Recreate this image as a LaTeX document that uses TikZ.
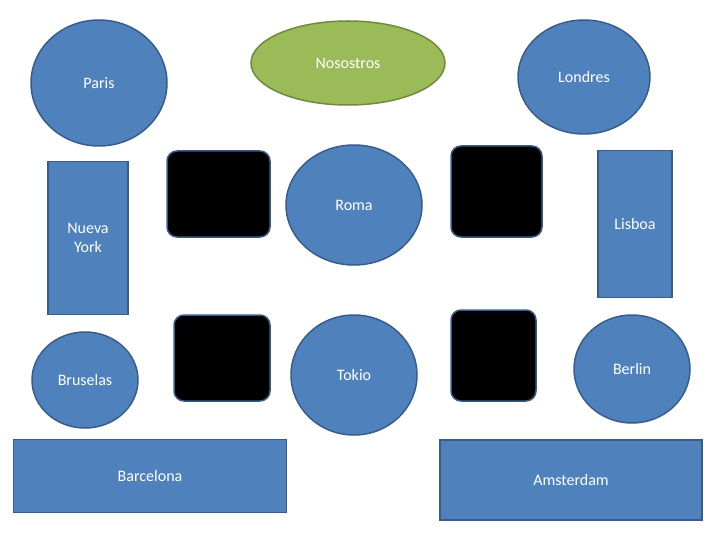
\documentclass[tikz,border=0pt]{standalone}
\usepackage{fontspec}
\setmainfont{Carlito}
\usetikzlibrary{shapes.geometric}
\definecolor{cityblue}{HTML}{4F81BD}
\definecolor{cityedge}{HTML}{385D8A}
\definecolor{usgreen}{HTML}{9BBB59}
\definecolor{usedge}{HTML}{71893F}
\tikzset{
  city/.style={draw=cityedge, line width=1.5pt, fill=cityblue, text=white, inner sep=0pt,
    font=\fontsize{16}{19}\selectfont, align=center},
  oval/.style={city, ellipse},
  block/.style={city, rectangle},
  blank/.style={draw=cityedge, line width=1.5pt, fill=black, rounded corners=10pt}
}
\begin{document}
\begin{tikzpicture}[x=1pt, y=-1pt]
        \useasboundingbox (0,0) rectangle (720,540);
        % Ovals
        \node[oval, minimum width=136, minimum height=126] (paris) at (99,83) {Paris};
        \node[oval, fill=usgreen, draw=usedge, minimum width=194, minimum height=84] (nosostros) at (348,63) {Nosostros};
        \node[oval, minimum width=132, minimum height=114] (londres) at (584,77) {Londres};
        \node[oval, minimum width=136, minimum height=120] (roma) at (354,205) {Roma};
        \node[oval, minimum width=106, minimum height=96] (bruselas) at (85,380) {Bruselas};
        \node[oval, minimum width=126, minimum height=120] (tokio) at (354,375) {Tokio};
        \node[oval, minimum width=116, minimum height=108] (berlin) at (632,369) {Berlin};
        % Rectangles
        \node[block, minimum width=80, minimum height=153] (nuevayork) at (88,238) {Nueva\\York};
        \node[block, minimum width=74, minimum height=147] (lisboa) at (635,224) {Lisboa};
        \node[block, minimum width=273, minimum height=73] (barcelona) at (150,476) {Barcelona};
        \node[block, minimum width=262, minimum height=80] (amsterdam) at (571,480) {Amsterdam};
        % Black squares
        \draw[blank] (167,151) rectangle (270,237);
        \draw[blank] (451,146) rectangle (542,237);
        \draw[blank] (174,315) rectangle (270,401);
        \draw[blank] (451,310) rectangle (536,401);
\end{tikzpicture}
\end{document}
